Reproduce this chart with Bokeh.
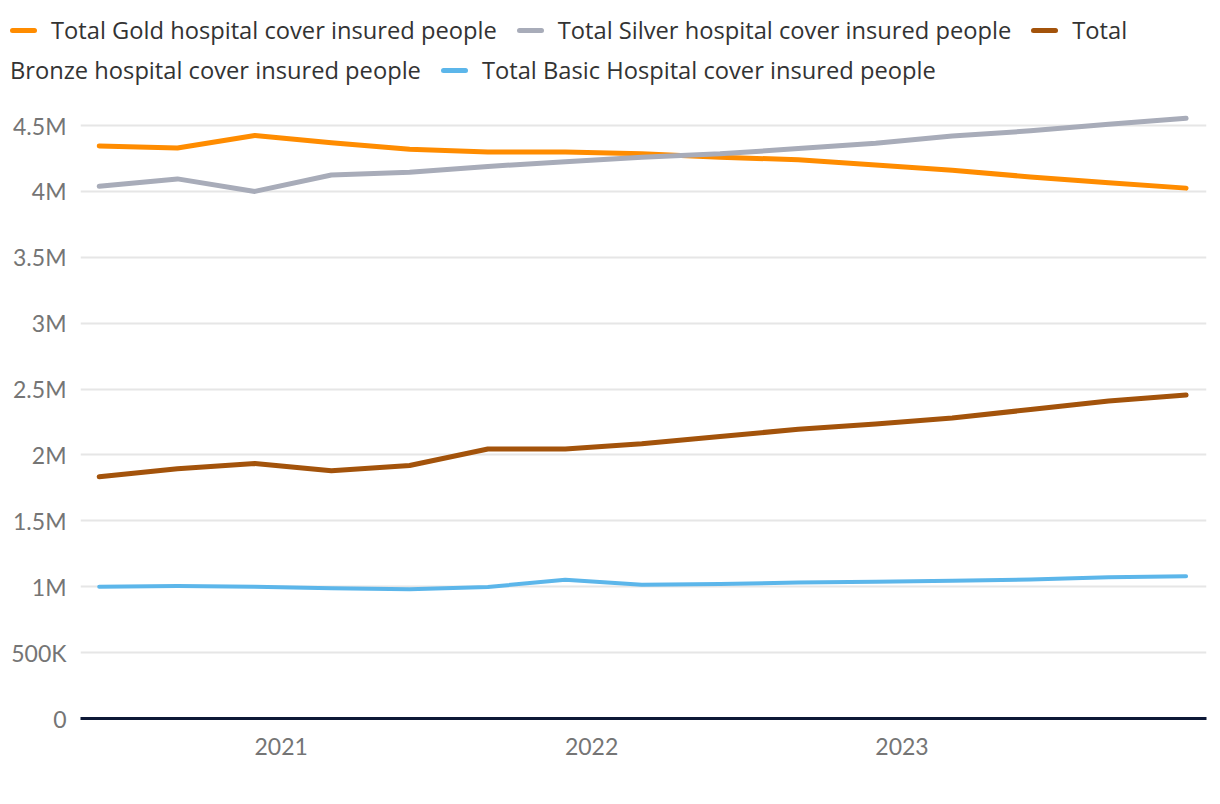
import pandas as pd
from bokeh.plotting import figure
from bokeh.models import Range1d, FixedTicker, Div, ColumnDataSource
from bokeh.layouts import column
from bokeh.embed import file_html
from bokeh.resources import INLINE

dates = ["2020-06-01", "2020-09-01", "2020-12-01", "2021-03-01", "2021-06-01",
         "2021-09-01", "2021-12-01", "2022-03-01", "2022-06-01", "2022-09-01",
         "2022-12-01", "2023-03-01", "2023-06-01", "2023-09-01", "2023-12-01"]
gold = [4.345e6, 4.33e6, 4.425e6, 4.37e6, 4.32e6, 4.30e6, 4.30e6, 4.285e6,
        4.26e6, 4.24e6, 4.20e6, 4.16e6, 4.11e6, 4.065e6, 4.025e6]
silver = [4.04e6, 4.095e6, 4.0e6, 4.125e6, 4.145e6, 4.19e6, 4.225e6, 4.26e6,
          4.285e6, 4.325e6, 4.365e6, 4.42e6, 4.46e6, 4.51e6, 4.555e6]
bronze = [1.835e6, 1.895e6, 1.935e6, 1.88e6, 1.92e6, 2.045e6, 2.045e6, 2.085e6,
          2.14e6, 2.195e6, 2.235e6, 2.28e6, 2.345e6, 2.41e6, 2.455e6]
basic = [1.0e6, 1.005e6, 1.0e6, 0.988e6, 0.98e6, 0.998e6, 1.053e6, 1.015e6,
         1.02e6, 1.032e6, 1.038e6, 1.045e6, 1.055e6, 1.072e6, 1.08e6]

names = ["Total Gold hospital cover insured people",
         "Total Silver hospital cover insured people",
         "Total Bronze hospital cover insured people",
         "Total Basic Hospital cover insured people"]
colors = ["#ff8c00", "#a8acb9", "#a3530b", "#5cb6ea"]
widths = [5, 5, 5, 4]

y_ticks = [0, 500000, 1000000, 1500000, 2000000, 2500000, 3000000, 3500000, 4000000, 4500000]
y_labels = ["0", "500K", "1M", "1.5M", "2M", "2.5M", "3M", "3.5M", "4M", "4.5M"]
x_ticks = ["2021-01-01", "2022-01-01", "2023-01-01"]
x_labels = ["2021", "2022", "2023"]

FONT = "Lato"

x = pd.to_datetime(dates)
src = ColumnDataSource(dict(x=x, gold=gold, silver=silver, bronze=bronze, basic=basic))

p = figure(width=1220, height=709, x_axis_type="datetime",
           output_backend="svg", toolbar_location=None,
           min_border_left=80, min_border_right=14, min_border_top=5, min_border_bottom=86)
p.x_range = Range1d(pd.Timestamp("2020-05-10"), pd.Timestamp("2023-12-25"))
p.y_range = Range1d(0, 4.69e6)
p.outline_line_color = None
p.background_fill_color = "white"
p.border_fill_color = "white"

for key, c, w in zip(["gold", "silver", "bronze", "basic"], colors, widths):
    p.line("x", key, source=src, line_color=c, line_width=w,
           line_cap="round", line_join="round")

xt_ms = [pd.Timestamp(t).value / 1e6 for t in x_ticks]
p.xaxis.ticker = FixedTicker(ticks=xt_ms)
p.xaxis.major_label_overrides = {t: l for t, l in zip(xt_ms, x_labels)}
p.yaxis.ticker = FixedTicker(ticks=y_ticks)
p.yaxis.major_label_overrides = {t: l for t, l in zip(y_ticks, y_labels)}

for ax in (p.xaxis, p.yaxis):
    ax.major_tick_line_color = None
    ax.minor_tick_line_color = None
    ax.major_label_text_font = FONT
    ax.major_label_text_font_size = "23px"
    ax.major_label_text_color = "#757575"
p.yaxis.axis_line_color = None
p.yaxis.major_label_standoff = 8
p.xaxis.axis_line_color = "#0d1836"
p.xaxis.axis_line_width = 3
p.xaxis.major_label_standoff = 13

p.xgrid.grid_line_color = None
p.ygrid.grid_line_color = "#e6e6e6"
p.ygrid.grid_line_width = 2


def item(c, text):
    return (f'<span style="display:inline-block;width:27px;height:5px;border-radius:3px;'
            f'background:{c};vertical-align:middle;margin:0 14px 4px 0;"></span>{text}')

gap = '<span style="display:inline-block;width:20px"></span>'
html = ('<div style="font-family:\'Open Sans\';font-size:23.7px;color:#333;line-height:40px;'
        'white-space:nowrap;padding-top:10px;">'
        + item(colors[0], names[0]) + gap
        + item(colors[1], names[1]) + gap
        + item(colors[2], "Total") + '<br>Bronze hospital cover insured people'
        + gap + item(colors[3], names[3]) + '</div>')

legend = Div(text=html, width=1210, height=95, margin=(0, 0, 0, 10))

layout = column(legend, p, spacing=0)
open("out.html", "w").write(file_html(layout, INLINE))
